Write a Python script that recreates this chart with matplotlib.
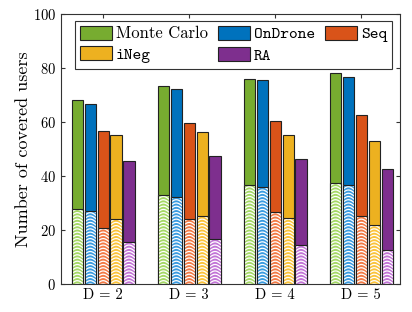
import matplotlib
matplotlib.use("Agg")
import matplotlib.pyplot as plt
import numpy as np

plt.rcParams["font.family"] = "serif"
plt.rcParams["font.serif"] = ["cmr10"]
plt.rcParams["axes.formatter.use_mathtext"] = True

groups = ["D = 2", "D = 3", "D = 4", "D = 5"]
methods = ["Monte Carlo", "OnDrone", "Seq", "iNeg", "RA"]
# totals (top of each bar) and the hatched lower part
totals = {
    "Monte Carlo": [68, 73.2, 76, 78.3],
    "OnDrone": [66.8, 72.2, 75.5, 76.8],
    "Seq": [56.5, 59.8, 60.5, 62.5],
    "iNeg": [55, 56.2, 55, 53],
    "RA": [45.7, 47.5, 46.2, 42.5],
}
lower = {
    "Monte Carlo": [27.7, 33, 36.5, 37.5],
    "OnDrone": [27, 32.2, 36, 36.8],
    "Seq": [20.7, 24, 26.8, 25.2],
    "iNeg": [24, 25, 24.5, 22],
    "RA": [15.5, 16.8, 14.5, 12.5],
}
dark = ["#77AC30", "#0072BD", "#D95319", "#EDB120", "#7E2F8E"]
light = ["#A5D865", "#3A9BE0", "#F27A45", "#FBC33A", "#C274D6"]

fig = plt.figure(figsize=(4.12, 3.12), dpi=100)
ax = fig.add_axes([0.148, 0.09, 0.823, 0.865])

x = np.arange(2, 6)
w = 0.13
offs = [-0.3, -0.15, 0, 0.15, 0.3]
handles = []
for i, m in enumerate(methods):
    xs = x + offs[i]
    t = np.array(totals[m])
    lo = np.array(lower[m])
    h = ax.bar(xs, t, w, color=dark[i], edgecolor="#222222", linewidth=0.8, label=m, zorder=2)
    handles.append(h)
    low = ax.bar(xs, lo, w, color=light[i], edgecolor="none", linewidth=0, zorder=3)
    # wavy white hatch inside the lower part
    for rect in low.patches:
        x0 = rect.get_x()
        xx = np.linspace(x0, x0 + w, 30)
        arc = 1.0 * np.sin(np.pi * (xx - x0) / w)
        for lev in np.arange(-1.0, rect.get_height() + 0.5, 1.2):
            ln, = ax.plot(xx, lev + arc, color="white", lw=0.9, zorder=3.5)
            ln.set_clip_path(rect)
    ax.bar(xs, lo, w, fill=False, edgecolor="#222222", linewidth=0.8, zorder=4)

ax.set_xlim(1.51, 5.45)
ax.set_ylim(0, 100)
ax.set_xticks(x)
ax.set_xticklabels(groups, fontsize=10.5)
ax.set_yticks(np.arange(0, 101, 20))
ax.tick_params(axis="y", labelsize=10.5)
ax.tick_params(direction="in", top=True, right=True, length=3, color="#333333")
for s in ax.spines.values():
    s.set_color("#333333")
    s.set_linewidth(0.8)
ax.set_ylabel("Number of covered users", fontsize=13, labelpad=1)

# row-major order: Monte Carlo, OnDrone, Seq / iNeg, RA
order = [0, 3, 1, 4, 2]
leg = ax.legend([handles[k] for k in order], [methods[k] for k in order],
                ncol=3, loc="upper left", bbox_to_anchor=(0.042, 0.975), fontsize=12,
                fancybox=False, edgecolor="#333333", framealpha=1,
                handlelength=1.9, handleheight=0.9, columnspacing=0.6,
                handletextpad=0.25, labelspacing=0.3, borderpad=0.3, borderaxespad=0)
leg.get_frame().set_linewidth(0.8)
for txt in leg.get_texts():
    if txt.get_text() != "Monte Carlo":
        txt.set_fontfamily("cmtt10")

fig.savefig("out.png", dpi=100)
